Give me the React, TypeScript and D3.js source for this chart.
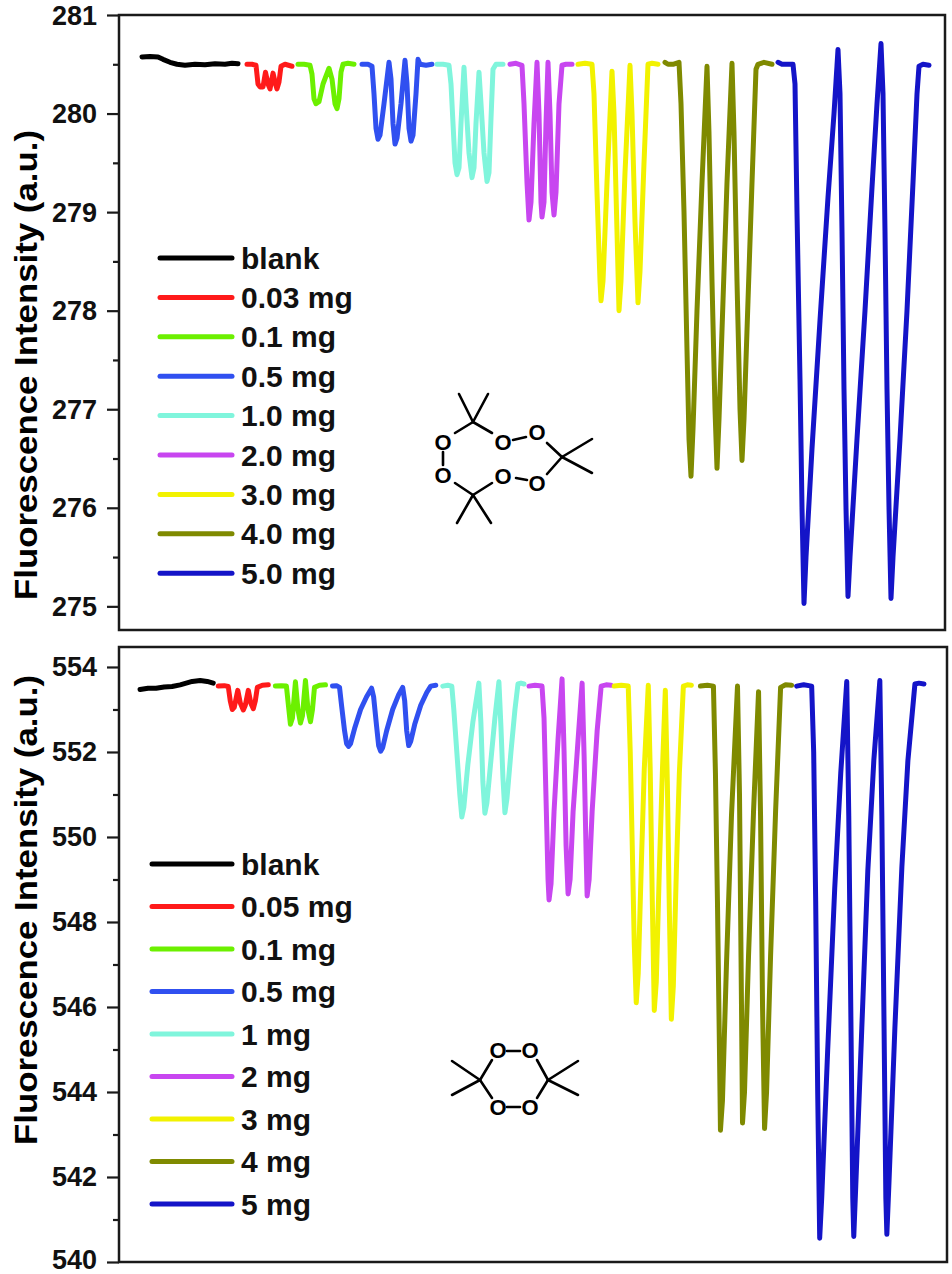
import { useEffect, useRef } from 'react';
import * as d3 from 'd3';

type Pt = [number, number];

// legend entries and colours
const tatpLabels = ['blank', '0.03 mg', '0.1 mg', '0.5 mg', '1.0 mg', '2.0 mg', '3.0 mg', '4.0 mg', '5.0 mg'];
const dadpLabels = ['blank', '0.05 mg', '0.1 mg', '0.5 mg', '1 mg', '2 mg', '3 mg', '4 mg', '5 mg'];
const colors = ['#000000', '#ff1a1a', '#6cf000', '#3050f0', '#80f5dc', '#c846f0', '#f2f200', '#7f8a00', '#1414c8'];

const tatpTicks = [275, 276, 277, 278, 279, 280, 281];
const dadpTicks = [540, 542, 544, 546, 548, 550, 552, 554];

// TATP traces: [time (s), intensity]
const tatpBlank: Pt[] = [[23, 280.575], [31, 280.58], [39, 280.575], [44, 280.55], [51, 280.52], [58, 280.5], [66, 280.49], [76, 280.5], [86, 280.495], [96, 280.505], [106, 280.5], [113, 280.51], [119, 280.505]];
const tatp003: Pt[] = [[128, 280.5], [133, 280.5], [137, 280.49], [139, 280.3], [141, 280.27], [144, 280.27], [146.5, 280.42], [149, 280.3], [151, 280.25], [154, 280.41], [156.5, 280.3], [158, 280.25], [160, 280.32], [162, 280.48], [166, 280.5], [173, 280.48]];
const tatp01: Pt[] = [[179, 280.5], [185, 280.5], [191, 280.49], [193, 280.4], [195, 280.15], [197, 280.1], [200, 280.12], [204, 280.3], [210, 280.46], [213, 280.35], [216, 280.1], [218, 280.05], [220, 280.15], [222, 280.42], [224, 280.5], [229, 280.51], [235, 280.5]];
const tatp05: Pt[] = [[243, 280.5], [249, 280.5], [253, 280.48], [255, 280.2], [257, 279.85], [259, 279.74], [261, 279.78], [265, 280.1], [270, 280.52], [272, 280.35], [274, 279.9], [276, 279.69], [278, 279.75], [282, 280.1], [286, 280.54], [288, 280.3], [290, 279.85], [292, 279.72], [294, 279.78], [297, 280.2], [299, 280.55], [301, 280.5], [307, 280.49], [313, 280.5]];
const tatp10: Pt[] = [[318, 280.5], [324, 280.5], [330, 280.49], [332, 280.3], [334, 279.9], [336, 279.5], [338, 279.38], [340, 279.45], [342, 279.9], [345, 280.47], [347, 280.1], [350, 279.6], [353, 279.35], [355, 279.45], [357, 279.9], [360, 280.42], [362, 280.1], [365, 279.6], [368, 279.31], [370, 279.4], [372, 279.95], [374, 280.45], [377, 280.5], [384, 280.5]];
const tatp20: Pt[] = [[391, 280.5], [397, 280.51], [403, 280.49], [405, 280.1], [408, 279.3], [410, 278.92], [412, 279.1], [415, 279.9], [418, 280.52], [420, 280.0], [422, 279.1], [423, 278.95], [425, 279.1], [427, 279.9], [429, 280.52], [431, 280.0], [433, 279.2], [435, 278.97], [437, 279.2], [440, 280.1], [443, 280.49], [447, 280.5], [453, 280.5]];
const tatp30: Pt[] = [[459, 280.5], [466, 280.51], [473, 280.5], [475, 280.2], [478, 279.2], [481, 278.3], [482, 278.1], [484, 278.3], [488, 279.3], [493, 280.43], [495, 280.0], [498, 278.8], [500, 278.0], [502, 278.3], [506, 279.4], [511, 280.49], [513, 280.0], [516, 278.9], [519, 278.08], [521, 278.4], [525, 279.5], [529, 280.5], [533, 280.51], [539, 280.5]];
const tatp40: Pt[] = [[546, 280.52], [549, 280.5], [554, 280.5], [560, 280.52], [562, 280.1], [565, 279.0], [568, 277.6], [570, 276.7], [572, 276.32], [574, 276.8], [578, 278.0], [583, 279.3], [588, 280.48], [590, 279.8], [593, 278.3], [596, 277.0], [598, 276.4], [600, 276.9], [604, 278.1], [608, 279.3], [613, 280.51], [615, 279.8], [618, 278.3], [621, 277.0], [623, 276.48], [625, 276.9], [629, 278.1], [633, 279.3], [637, 280.45], [639, 280.5], [645, 280.52], [653, 280.5]];
const tatp50: Pt[] = [[659, 280.52], [663, 280.5], [669, 280.5], [674, 280.5], [676, 280.3], [678, 279.0], [681, 277.3], [683, 276.0], [685, 275.03], [687, 275.5], [693, 276.6], [701, 277.9], [709, 279.15], [715, 280.0], [719, 280.65], [721, 280.2], [723, 278.8], [725, 277.2], [727, 276.0], [729, 275.1], [731, 275.5], [738, 276.7], [746, 278.0], [753, 279.25], [758, 280.1], [762, 280.71], [764, 280.2], [766, 278.8], [768, 277.2], [770, 276.0], [772, 275.08], [774, 275.5], [781, 276.7], [788, 278.0], [794, 279.3], [798, 280.2], [800, 280.48], [804, 280.5], [810, 280.49]];

// DADP traces: [time (s), intensity]
const dadpBlank: Pt[] = [[21, 553.47], [29, 553.5], [37, 553.5], [45, 553.53], [53, 553.54], [61, 553.58], [67, 553.62], [73, 553.66], [81, 553.68], [88, 553.66], [94, 553.62]];
const dadp005: Pt[] = [[99, 553.55], [105, 553.56], [109, 553.54], [111, 553.2], [113, 553.0], [115, 553.05], [118.5, 553.45], [121, 553.15], [124, 552.99], [126, 553.1], [129, 553.45], [131.5, 553.15], [134, 553.02], [136, 553.2], [138, 553.52], [143, 553.57], [149, 553.58]];
const dadp01: Pt[] = [[156, 553.55], [162, 553.56], [167, 553.55], [169, 553.1], [171, 552.65], [173, 552.8], [176, 553.65], [178.5, 553.0], [181, 552.68], [183, 552.85], [186, 553.68], [188.5, 553.0], [191, 552.71], [193, 553.0], [195, 553.52], [200, 553.57], [206, 553.58]];
const dadp05: Pt[] = [[213, 553.55], [217, 553.56], [220, 553.52], [222, 553.1], [225, 552.5], [227, 552.2], [229, 552.13], [231, 552.2], [235, 552.55], [241, 553.0], [247, 553.3], [252, 553.5], [254, 553.3], [257, 552.6], [259, 552.15], [261, 552.02], [263, 552.1], [267, 552.5], [273, 553.0], [279, 553.35], [283, 553.52], [285, 553.2], [287, 552.5], [289, 552.15], [291, 552.25], [295, 552.65], [301, 553.1], [307, 553.4], [311, 553.55], [316, 553.57]];
const dadp1: Pt[] = [[323, 553.55], [328, 553.57], [332, 553.55], [334, 553.0], [337, 552.0], [340, 551.0], [342, 550.47], [344, 550.7], [348, 551.7], [353, 552.7], [359, 553.62], [361, 552.7], [363, 551.3], [365, 550.56], [367, 550.8], [371, 551.8], [375, 552.8], [379, 553.65], [381, 552.6], [383, 551.4], [385, 550.57], [387, 550.9], [391, 552.0], [395, 553.0], [398, 553.6], [401, 553.62], [404, 553.6]];
const dadp2: Pt[] = [[409, 553.55], [415, 553.57], [422, 553.55], [424, 552.8], [426, 550.9], [428, 549.0], [429, 548.52], [431, 548.9], [434, 550.6], [438, 552.3], [442, 553.72], [444, 552.0], [446, 549.8], [448, 548.66], [450, 549.0], [453, 550.6], [458, 552.3], [462, 553.62], [464, 551.9], [466, 549.6], [467, 548.61], [469, 549.0], [472, 550.6], [477, 552.5], [481, 553.55], [486, 553.58], [491, 553.57]];
const dadp3: Pt[] = [[494, 553.55], [501, 553.57], [508, 553.55], [510, 552.0], [512, 549.8], [514, 547.5], [516, 546.1], [518, 546.8], [521, 549.3], [524, 551.6], [528, 553.57], [530, 551.5], [532, 548.5], [534, 545.92], [536, 546.6], [539, 549.2], [542, 551.5], [545, 553.45], [547, 551.3], [549, 548.3], [551, 545.71], [553, 546.5], [556, 549.2], [559, 551.5], [563, 553.55], [567, 553.58], [571, 553.57]];
const dadp4: Pt[] = [[580, 553.55], [587, 553.57], [593, 553.55], [595, 551.5], [597, 548.5], [599, 545.0], [600, 543.1], [602, 543.8], [606, 547.0], [611, 550.5], [617, 553.55], [619, 551.0], [621, 546.0], [622, 543.27], [624, 544.0], [628, 547.2], [633, 550.6], [638, 553.42], [640, 550.5], [642, 546.0], [644, 543.14], [646, 544.0], [650, 547.2], [655, 550.6], [660, 553.52], [665, 553.58], [671, 553.57]];
const dadp5: Pt[] = [[676, 553.55], [683, 553.58], [691, 553.55], [693, 552.0], [695, 548.5], [697, 544.0], [699, 540.56], [701, 541.5], [707, 545.0], [714, 548.8], [720, 551.5], [726, 553.66], [728, 550.5], [730, 546.0], [732, 541.5], [733, 540.6], [735, 541.8], [741, 545.5], [747, 549.2], [753, 551.8], [759, 553.68], [761, 550.5], [763, 546.0], [765, 541.5], [766, 540.65], [768, 541.8], [774, 545.5], [781, 549.3], [787, 551.8], [794, 553.6], [798, 553.62], [803, 553.6]];

const tatpTraces = [tatpBlank, tatp003, tatp01, tatp05, tatp10, tatp20, tatp30, tatp40, tatp50];
const dadpTraces = [dadpBlank, dadp005, dadp01, dadp05, dadp1, dadp2, dadp3, dadp4, dadp5];

const FONT = '"Liberation Sans", Arial, sans-serif';

interface PanelOpts {
  top: number;
  bottom: number;
  right: number;
  domain: [number, number];
  ticks: number[];
  traces: Pt[][];
  labels: string[];
  legend: { x1: number; x2: number; y: number; step: number };
  titleY: number;
}

function drawPanel(svg: d3.Selection<SVGSVGElement, unknown, null, undefined>, o: PanelOpts) {
  const left = 119;
  const x = d3.scaleLinear().domain([0, 826]).range([left, o.right]);
  const y = d3.scaleLinear().domain(o.domain).range([o.bottom, o.top]);

  const g = svg.append('g');

  // traces
  const line = d3.line<Pt>().x(d => x(d[0])).y(d => y(d[1]));
  o.traces.forEach((pts, i) => {
    g.append('path')
      .attr('d', line(pts))
      .attr('fill', 'none')
      .attr('stroke', colors[i])
      .attr('stroke-width', 5)
      .attr('stroke-linejoin', 'round')
      .attr('stroke-linecap', 'round');
  });

  // frame
  g.append('rect')
    .attr('x', left)
    .attr('y', o.top)
    .attr('width', o.right - left)
    .attr('height', o.bottom - o.top)
    .attr('fill', 'none')
    .attr('stroke', '#1a1a1a')
    .attr('stroke-width', 2.5);

  // minor ticks at the midpoints
  const step = o.ticks[1] - o.ticks[0];
  const minor = o.ticks.slice(0, -1).map(t => t + step / 2);
  const minorAxis = d3.axisLeft(y).tickValues(minor).tickSize(6).tickFormat(() => '');
  const ga = g.append('g').attr('transform', `translate(${left},0)`);
  ga.call(minorAxis);

  const majorAxis = d3.axisLeft(y).tickValues(o.ticks).tickSize(12).tickPadding(10).tickFormat(d3.format('d'));
  const gb = g.append('g').attr('transform', `translate(${left},0)`);
  gb.call(majorAxis);

  [ga, gb].forEach(a => {
    a.select('.domain').remove();
    a.selectAll('line').attr('stroke', '#1a1a1a').attr('stroke-width', 2.2);
  });
  // keep the lowest label inside the page
  gb.selectAll<SVGTextElement, number>('text')
    .attr('font-family', FONT)
    .attr('font-size', 27)
    .attr('font-weight', 'bold')
    .attr('fill', '#111')
    .attr('dy', d => (y(d) + 9 > 1268 ? `${1268 - y(d)}px` : '9px'));

  // y title
  g.append('text')
    .attr('transform', `translate(37,${o.titleY}) rotate(-90)`)
    .attr('text-anchor', 'middle')
    .attr('font-family', FONT)
    .attr('font-size', 32)
    .attr('font-weight', 'bold')
    .attr('textLength', 470)
    .attr('lengthAdjust', 'spacingAndGlyphs')
    .text('Fluorescence Intensity (a.u.)');

  // legend
  o.labels.forEach((lab, i) => {
    const ly = o.legend.y + i * o.legend.step;
    g.append('line')
      .attr('x1', o.legend.x1)
      .attr('x2', o.legend.x2)
      .attr('y1', ly)
      .attr('y2', ly)
      .attr('stroke', colors[i])
      .attr('stroke-width', 5)
      .attr('stroke-linecap', 'round');
    g.append('text')
      .attr('x', o.legend.x2 + 9)
      .attr('y', ly + 10.5)
      .attr('font-family', FONT)
      .attr('font-size', 30)
      .attr('font-weight', 'bold')
      .attr('fill', '#111')
      .text(lab);
  });
}

// simple skeletal formula: bonds as segments, O atoms as labels
function drawMolecule(
  svg: d3.Selection<SVGSVGElement, unknown, null, undefined>,
  bonds: number[][],
  atoms: number[][]
) {
  const g = svg.append('g');
  g.selectAll('line')
    .data(bonds)
    .enter()
    .append('line')
    .attr('x1', d => d[0])
    .attr('y1', d => d[1])
    .attr('x2', d => d[2])
    .attr('y2', d => d[3])
    .attr('stroke', '#000')
    .attr('stroke-width', 2.6)
    .attr('stroke-linecap', 'round');
  g.selectAll('text')
    .data(atoms)
    .enter()
    .append('text')
    .attr('x', d => d[0])
    .attr('y', d => d[1] + 8)
    .attr('text-anchor', 'middle')
    .attr('font-family', FONT)
    .attr('font-size', 22)
    .attr('font-weight', 'bold')
    .text('O');
}

const tatpBonds = [
  [473, 422, 459, 394], [473, 422, 488, 394],
  [473, 422, 455, 433], [473, 422, 492, 433],
  [443, 452, 443, 465],
  [513, 440, 526, 437],
  [547, 443, 562, 457],
  [562, 457, 592, 439], [562, 457, 592, 473],
  [562, 457, 547, 474],
  [516, 478, 527, 480],
  [492, 483, 473, 495],
  [473, 495, 457, 523], [473, 495, 491, 523],
  [473, 495, 455, 483],
];
const tatpAtoms = [[443, 442], [503, 442], [537, 432], [537, 483], [503, 476], [443, 475]];

const dadpBonds = [
  [480, 1080, 452, 1061], [480, 1080, 452, 1095],
  [480, 1080, 492, 1060], [480, 1080, 492, 1098],
  [548, 1080, 578, 1061], [548, 1080, 578, 1095],
  [548, 1080, 537, 1060], [548, 1080, 537, 1098],
  [507, 1051, 520, 1051], [507, 1107, 520, 1107],
];
const dadpAtoms = [[498, 1050], [530, 1050], [498, 1107], [530, 1107]];

const App = () => {
  const ref = useRef<SVGSVGElement>(null);

  useEffect(() => {
    if (!ref.current) return;
    const svg = d3.select(ref.current);
    svg.selectAll('*').remove();

    svg.append('rect').attr('width', 952).attr('height', 1274).attr('fill', '#fff');

    drawPanel(svg, {
      top: 15,
      bottom: 630,
      right: 945,
      domain: [274.76, 281],
      ticks: tatpTicks,
      traces: tatpTraces,
      labels: tatpLabels,
      legend: { x1: 160, x2: 232, y: 258, step: 39.4 },
      titleY: 365,
    });
    drawPanel(svg, {
      top: 647,
      bottom: 1262,
      right: 947,
      domain: [540, 554.47],
      ticks: dadpTicks,
      traces: dadpTraces,
      labels: dadpLabels,
      legend: { x1: 152, x2: 232, y: 864, step: 42.5 },
      titleY: 910,
    });

    drawMolecule(svg, tatpBonds, tatpAtoms);
    drawMolecule(svg, dadpBonds, dadpAtoms);
  }, []);

  return (
    <svg
      ref={ref}
      width={952}
      height={1274}
      style={{ position: 'absolute', left: 0, top: 0, display: 'block' }}
    />
  );
};

export default App;
